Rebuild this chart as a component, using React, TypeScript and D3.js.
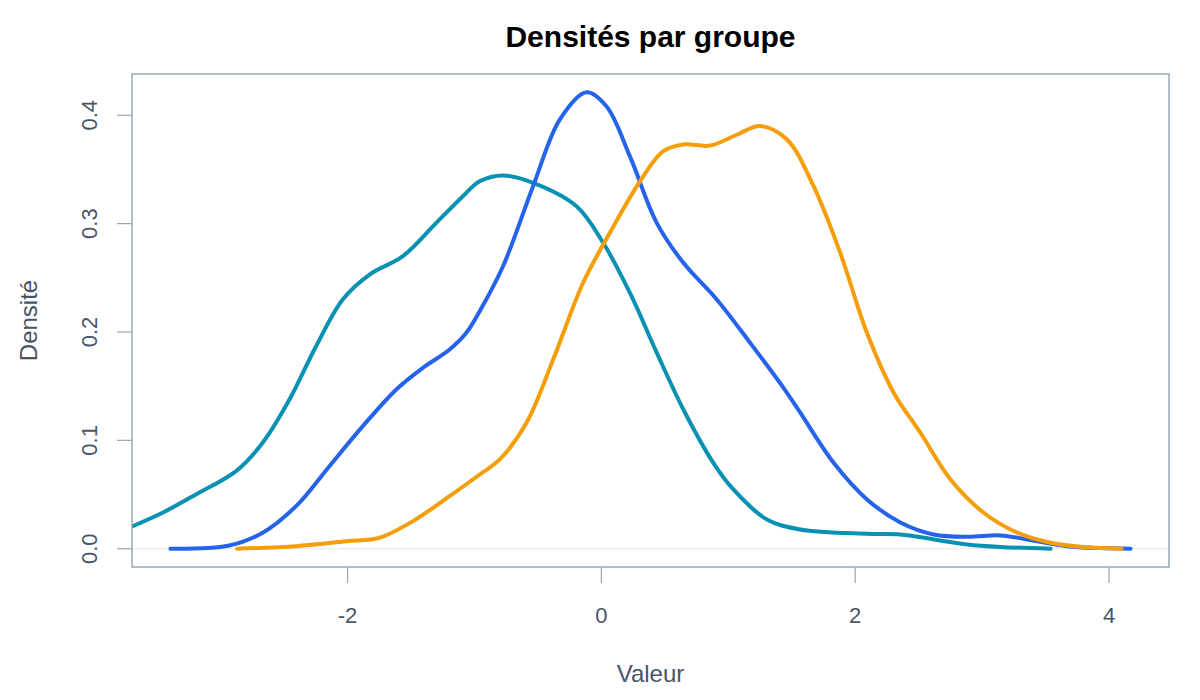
import React, { useEffect, useRef } from 'react';
import * as d3 from 'd3';

// Densité estimée (valeur, densité), un tableau par groupe
const groupeA: [number, number][] = [
  [-4.0, 0.006], [-3.721, 0.0194], [-3.458, 0.0332], [-3.195, 0.0501], [-2.879, 0.0716],
  [-2.669, 0.0978], [-2.459, 0.1374], [-2.248, 0.1869], [-2.038, 0.23], [-1.827, 0.253],
  [-1.564, 0.27], [-1.301, 0.3007], [-1.091, 0.3253], [-0.959, 0.339], [-0.775, 0.3444],
  [-0.538, 0.3376], [-0.196, 0.316], [0.014, 0.2823], [0.225, 0.236], [0.436, 0.181],
  [0.646, 0.1285], [0.882, 0.0793], [1.04, 0.0547], [1.304, 0.027], [1.567, 0.0178],
  [2.093, 0.0138], [2.356, 0.0132], [2.619, 0.0086], [2.882, 0.004], [3.145, 0.0017],
  [3.54, 0.0],
];

const groupeB: [number, number][] = [
  [-3.396, 0.0], [-2.932, 0.003], [-2.669, 0.0148], [-2.406, 0.0393], [-2.143, 0.0762],
  [-1.88, 0.1131], [-1.616, 0.147], [-1.406, 0.167], [-1.196, 0.1839], [-1.064, 0.1993],
  [-0.959, 0.2192], [-0.775, 0.2607], [-0.538, 0.3345], [-0.328, 0.396], [-0.117, 0.4212],
  [0.041, 0.408], [0.225, 0.362], [0.436, 0.3007], [0.646, 0.2638], [0.909, 0.23],
  [1.172, 0.19], [1.435, 0.1485], [1.567, 0.1255], [1.83, 0.0793], [2.093, 0.0455],
  [2.356, 0.0243], [2.619, 0.0132], [2.882, 0.011], [3.145, 0.0123], [3.356, 0.0086],
  [3.672, 0.0024], [3.934, 0.0006], [4.17, 0.0],
];

const groupeC: [number, number][] = [
  [-2.87, 0.0], [-2.406, 0.0024], [-2.011, 0.007], [-1.748, 0.0101], [-1.485, 0.0255],
  [-1.196, 0.0485], [-0.959, 0.0685], [-0.801, 0.0824], [-0.59, 0.1162], [-0.38, 0.1746],
  [-0.144, 0.2454], [0.067, 0.2915], [0.304, 0.339], [0.488, 0.3668], [0.646, 0.373],
  [0.856, 0.372], [1.067, 0.382], [1.251, 0.39], [1.462, 0.3776], [1.672, 0.3345],
  [1.882, 0.273], [2.093, 0.199], [2.303, 0.144], [2.514, 0.107], [2.751, 0.0639],
  [3.013, 0.0332], [3.277, 0.0148], [3.54, 0.0055], [3.803, 0.0015], [4.1, 0.0],
];

const couleurs = ['#0891b2', '#2563eb', '#f59e0b'];
const xTicks = [-2, 0, 2, 4];
const yTicks = [0, 0.1, 0.2, 0.3, 0.4];

const WIDTH = 1200;
const HEIGHT = 700;
const FONT = '"Liberation Sans", Arial, Helvetica, sans-serif';
const AXIS = '#9aa6b8';
const TEXT = '#475569';

const DensityChart: React.FC = () => {
  const svgRef = useRef<SVGSVGElement>(null);

  useEffect(() => {
    if (!svgRef.current) return;
    const margin = { top: 74, right: 31, bottom: 133, left: 132 };
    const innerW = WIDTH - margin.left - margin.right;
    const innerH = HEIGHT - margin.top - margin.bottom;

    // R-style limits: data range + 4% on each side (xlim from groups B and C)
    const xs = [...groupeB, ...groupeC].map(d => d[0]);
    const [x0, x1] = d3.extent(xs) as [number, number];
    const xPad = (x1 - x0) * 0.04;
    const yMax = d3.max([...groupeA, ...groupeB, ...groupeC], d => d[1])!;
    const yPad = yMax * 0.04;

    const x = d3.scaleLinear().domain([x0 - xPad, x1 + xPad]).range([0, innerW]);
    const y = d3.scaleLinear().domain([-yPad, yMax + yPad]).range([innerH, 0]);

    const svg = d3.select(svgRef.current);
    svg.selectAll('*').remove();

    svg.append('defs').append('clipPath').attr('id', 'plot-clip')
      .append('rect').attr('width', innerW).attr('height', innerH);

    const g = svg.append('g').attr('transform', `translate(${margin.left},${margin.top})`);

    // zero line
    g.append('line')
      .attr('x1', 0).attr('x2', innerW)
      .attr('y1', y(0)).attr('y2', y(0))
      .attr('stroke', '#e5e7eb').attr('stroke-width', 1);

    const line = d3.line<[number, number]>()
      .x(d => x(d[0]))
      .y(d => y(d[1]))
      .curve(d3.curveCatmullRom.alpha(0.5));

    const curves = g.append('g').attr('clip-path', 'url(#plot-clip)');
    [groupeA, groupeB, groupeC].forEach((data, i) => {
      curves.append('path')
        .attr('d', line(data))
        .attr('fill', 'none')
        .attr('stroke', couleurs[i])
        .attr('stroke-width', 4)
        .attr('stroke-linecap', 'round')
        .attr('stroke-linejoin', 'round');
    });

    // box
    g.append('rect')
      .attr('width', innerW).attr('height', innerH)
      .attr('fill', 'none').attr('stroke', AXIS).attr('stroke-width', 1.5);

    // x axis
    const xa = g.append('g').attr('transform', `translate(0,${innerH})`);
    xTicks.forEach(t => {
      xa.append('line').attr('x1', x(t)).attr('x2', x(t)).attr('y1', 0).attr('y2', 16)
        .attr('stroke', AXIS).attr('stroke-width', 1.2);
      xa.append('text').attr('x', x(t)).attr('y', 56)
        .attr('text-anchor', 'middle')
        .style('font-family', FONT).style('font-size', '22px').style('fill', TEXT)
        .text(String(t));
    });

    // y axis
    const ya = g.append('g');
    yTicks.forEach(t => {
      ya.append('line').attr('x1', -15).attr('x2', 0).attr('y1', y(t)).attr('y2', y(t))
        .attr('stroke', AXIS).attr('stroke-width', 1.2);
      ya.append('text')
        .attr('transform', `translate(-35,${y(t)}) rotate(-90)`)
        .attr('text-anchor', 'middle')
        .style('font-family', FONT).style('font-size', '22px').style('fill', TEXT)
        .text(d3.format('.1f')(t));
    });

    // labels
    svg.append('text')
      .attr('x', margin.left + innerW / 2).attr('y', 682)
      .attr('text-anchor', 'middle')
      .style('font-family', FONT).style('font-size', '24px').style('fill', TEXT)
      .text('Valeur');

    svg.append('text')
      .attr('transform', `translate(37,${margin.top + innerH / 2}) rotate(-90)`)
      .attr('text-anchor', 'middle')
      .style('font-family', FONT).style('font-size', '24px').style('fill', TEXT)
      .text('Densité');

    svg.append('text')
      .attr('x', margin.left + innerW / 2).attr('y', 47)
      .attr('text-anchor', 'middle')
      .style('font-family', FONT).style('font-size', '30px').style('font-weight', 'bold')
      .style('fill', '#000')
      .text('Densités par groupe');
  }, []);

  return (
    <div style={{ position: 'fixed', left: 0, top: 0, width: WIDTH, height: HEIGHT, background: '#fff' }}>
      <svg ref={svgRef} width={WIDTH} height={HEIGHT}></svg>
    </div>
  );
};

export default function App() {
  return <DensityChart />;
}
